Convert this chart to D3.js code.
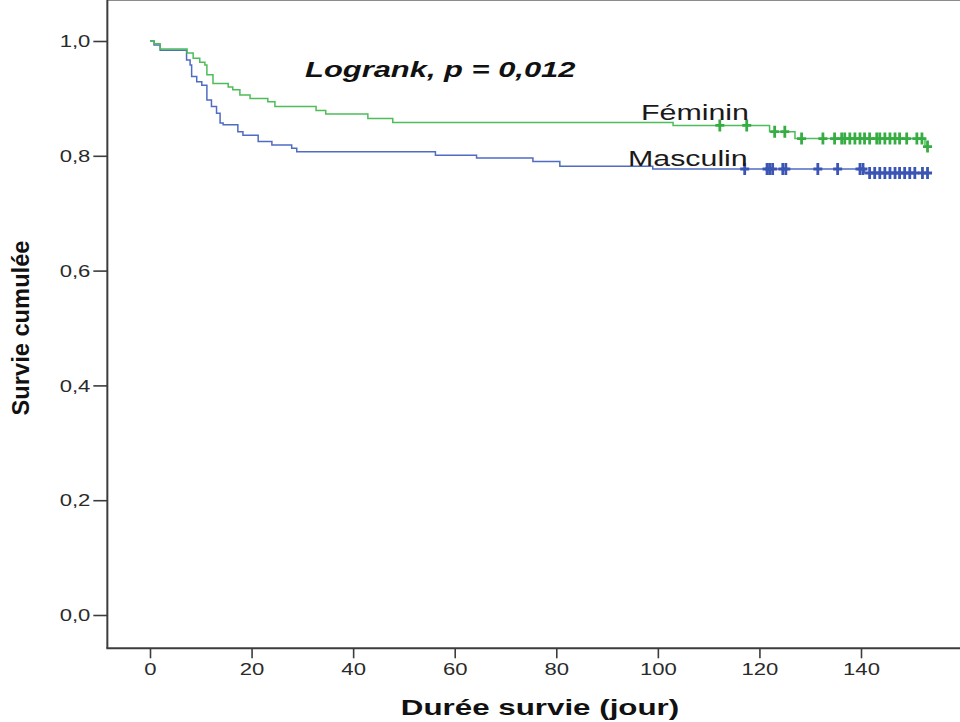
<!DOCTYPE html>
<html>
<head>
<meta charset="utf-8">
<script src="https://cdn.jsdelivr.net/npm/d3@7"></script>
<style>
  body { margin: 0; background: #fff; }
  svg { display: block; }
  text { font-family: "Liberation Sans", Arial, sans-serif; }
</style>
</head>
<body>
<svg id="chart" width="960" height="722"></svg>
<script>
// Kaplan-Meier steps (time in days, cumulative survival)
var femTimes = [0, 0.8, 2.0, 7.3, 8.5, 9.8, 10.8, 11.2, 12.4, 15.4, 16.3, 17.7, 19.7, 23.2, 24.6, 32.7, 34.6, 42.9, 47.8, 103.0, 122.0, 127.0, 152.6];
var femSurv  = [1.0, 0.995, 0.986, 0.979, 0.970, 0.963, 0.958, 0.941, 0.926, 0.920, 0.915, 0.906, 0.900, 0.894, 0.886, 0.879, 0.873, 0.865, 0.858, 0.853, 0.842, 0.830, 0.816];
var femCensor = [112.2, 117.5, 123.0, 125.0, 128.3, 132.5, 134.8, 136.2, 136.8, 137.8, 138.8, 139.8, 140.7, 141.7, 143.1, 143.7, 144.7, 145.7, 146.7, 147.6, 149.0, 151.0, 152.0, 153.1];

var masTimes = [0, 0.8, 2.0, 7.2, 7.9, 8.2, 9.2, 10.2, 11.2, 12.1, 13.1, 13.8, 14.4, 17.3, 18.3, 21.3, 24.0, 27.9, 28.9, 56.2, 64.3, 75.4, 80.7, 99.0, 140.7];
var masSurv  = [1.0, 0.993, 0.984, 0.967, 0.958, 0.938, 0.929, 0.923, 0.897, 0.886, 0.874, 0.857, 0.854, 0.842, 0.836, 0.825, 0.819, 0.813, 0.807, 0.801, 0.796, 0.790, 0.782, 0.777, 0.770];
var masCensor = [117.1, 121.5, 122.0, 122.6, 124.6, 125.2, 131.5, 135.4, 139.8, 140.4, 141.7, 142.7, 143.7, 144.7, 145.7, 146.7, 147.6, 148.6, 149.6, 150.6, 152.1, 153.1];

var endTime = 153.2;
var xTicks = [0, 20, 40, 60, 80, 100, 120, 140];
var yTicks = [0, 0.2, 0.4, 0.6, 0.8, 1.0];

var groups = [
  {name: "Masculin", times: masTimes, surv: masSurv, censor: masCensor, line: "#4f6cc2", mark: "#3a55b3", lx: 628, ly: 166},
  {name: "Féminin",  times: femTimes, surv: femSurv, censor: femCensor, line: "#4cbd58", mark: "#36ad43", lx: 641, ly: 120}
];

var svg = d3.select("#chart");
var stretch = 1.38; // the original picture is widened horizontally

var x = d3.scaleLinear().domain([0, 140]).range([150, 861]);
var y = d3.scaleLinear().domain([0, 1]).range([615, 41]);

var left = x(-8.4), bottom = y(-0.058), top = 9.5;

// frame
svg.append("line").attr("x1", left).attr("x2", 960).attr("y1", top).attr("y2", top)
  .attr("stroke", "#8c8c8c").attr("stroke-width", 2);
svg.append("line").attr("x1", left).attr("x2", left).attr("y1", top - 1).attr("y2", bottom)
  .attr("stroke", "#3c3c3c").attr("stroke-width", 2);
svg.append("line").attr("x1", left - 1).attr("x2", 960).attr("y1", bottom).attr("y2", bottom)
  .attr("stroke", "#3c3c3c").attr("stroke-width", 2);

var fmt = function(d) { return d3.format(".1f")(d).replace(".", ","); };

var yAxis = svg.append("g").attr("transform", "translate(" + left + ",0)")
  .call(d3.axisLeft(y).tickValues(yTicks).tickFormat(fmt).tickSize(14).tickPadding(3));
yAxis.select(".domain").remove();
yAxis.selectAll("line").attr("stroke", "#3c3c3c").attr("stroke-width", 1.6);
yAxis.selectAll("text")
  .attr("x", -17 / stretch).attr("dy", "0.36em")
  .attr("transform", "scale(" + stretch + ",1)")
  .attr("fill", "#2a2a2a").style("font-size", "16px");

var xAxis = svg.append("g").attr("transform", "translate(0," + bottom + ")")
  .call(d3.axisBottom(x).tickValues(xTicks).tickFormat(d3.format("d")).tickSize(10).tickPadding(5));
xAxis.select(".domain").remove();
xAxis.selectAll("line").attr("stroke", "#3c3c3c").attr("stroke-width", 1.6);
xAxis.selectAll("text")
  .attr("transform", "scale(" + stretch + ",1)")
  .attr("fill", "#2a2a2a").style("font-size", "16px");

// curves
var line = d3.line()
  .x(function(d) { return x(d[0]); })
  .y(function(d) { return y(d[1]); })
  .curve(d3.curveStepAfter);

groups.forEach(function(g) {
  var pts = g.times.map(function(t, i) { return [t, g.surv[i]]; });
  pts.push([endTime, g.surv[g.surv.length - 1]]);

  svg.append("path").datum(pts)
    .attr("d", line)
    .attr("fill", "none")
    .attr("stroke", g.line)
    .attr("stroke-width", 1.5);

  // censored cases: "+" marks sitting on the curve
  svg.append("g").selectAll("path")
    .data(g.censor)
    .enter().append("path")
      .attr("transform", function(t) {
        var i = d3.bisectRight(g.times, t) - 1;
        return "translate(" + x(t) + "," + y(g.surv[i]) + ")";
      })
      .attr("d", "M-4.5,0H4.5M0,-6V6")
      .attr("stroke", g.mark)
      .attr("stroke-width", 2.8)
      .attr("fill", "none");
});

// group labels
groups.forEach(function(g) {
  svg.append("text")
    .attr("transform", "translate(" + g.lx + "," + g.ly + ") scale(" + stretch + ",1)")
    .style("font-size", "22px")
    .attr("fill", "#1a1a1a")
    .text(g.name);
});

svg.append("text")
  .attr("transform", "translate(305,77) scale(" + stretch + ",1)")
  .style("font-size", "22.4px").style("font-weight", "bold").style("font-style", "italic")
  .attr("fill", "#111")
  .text("Logrank, p = 0,012");

svg.append("text")
  .attr("transform", "translate(540,715) scale(" + stretch + ",1)")
  .attr("text-anchor", "middle")
  .style("font-size", "22.7px").style("font-weight", "bold")
  .attr("fill", "#111")
  .text("Durée survie (jour)");

svg.append("text")
  .attr("transform", "translate(29,328) rotate(-90) scale(1," + stretch + ")")
  .attr("text-anchor", "middle")
  .attr("textLength", 175).attr("lengthAdjust", "spacingAndGlyphs")
  .style("font-size", "17px").style("font-weight", "bold")
  .attr("fill", "#111")
  .text("Survie cumulée");
</script>
</body>
</html>
